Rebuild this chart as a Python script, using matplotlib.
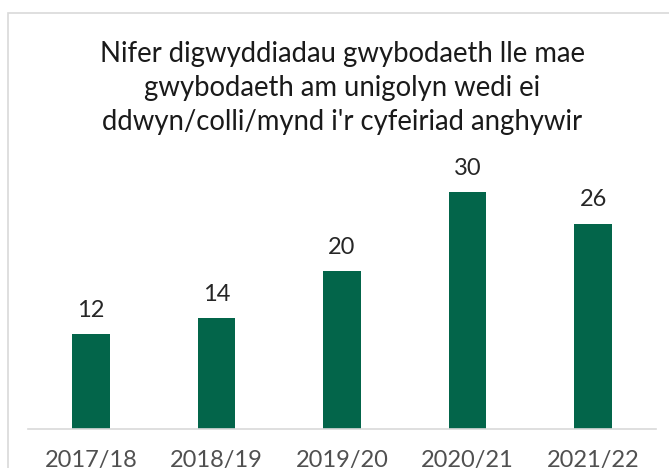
import matplotlib.pyplot as plt
from matplotlib.patches import Rectangle

years = ["2017/18", "2018/19", "2019/20", "2020/21", "2021/22"]
incidents = [12, 14, 20, 30, 26]

title = ("Nifer digwyddiadau gwybodaeth lle mae\n"
         "gwybodaeth am unigolyn wedi ei\n"
         "ddwyn/colli/mynd i'r cyfeiriad anghywir")

fig = plt.figure(figsize=(6.69, 4.68), dpi=100)
fig.patch.set_facecolor("white")

# chart frame, runs off the right and bottom edges
fig.patches.append(Rectangle((8 / 669, -0.1), 1.0, 1.1 - 13 / 468,
                             transform=fig.transFigure, fill=False,
                             edgecolor="#d9d9d9", linewidth=1.2))

ax = fig.add_axes([28 / 669, 39 / 468, 628 / 669, 276.5 / 468])
x = range(len(years))
bars = ax.bar(x, incidents, width=0.3, color="#03654a")
for b, v in zip(bars, incidents):
    ax.text(b.get_x() + b.get_width() / 2, v + 1.7, str(v),
            ha="center", va="bottom", fontsize=17, family="Lato",
            color="#262626")

ax.set_xlim(-0.5, len(years) - 0.5)
ax.set_ylim(0, 35)
ax.set_xticks(list(x))
ax.set_xticklabels(years, fontsize=17, family="Lato", color="#505050")
ax.tick_params(axis="x", length=0, pad=15)
ax.set_yticks([])
for s in ["top", "right", "left"]:
    ax.spines[s].set_visible(False)
ax.spines["bottom"].set_color("#d9d9d9")
ax.spines["bottom"].set_linewidth(1.2)

fig.text(342 / 669, 1 - 88 / 468, title, ha="center", va="center",
         fontsize=19.8, family="Lato", color="#1a1a1a", linespacing=1.38)

fig.savefig("out.png", dpi=100)
